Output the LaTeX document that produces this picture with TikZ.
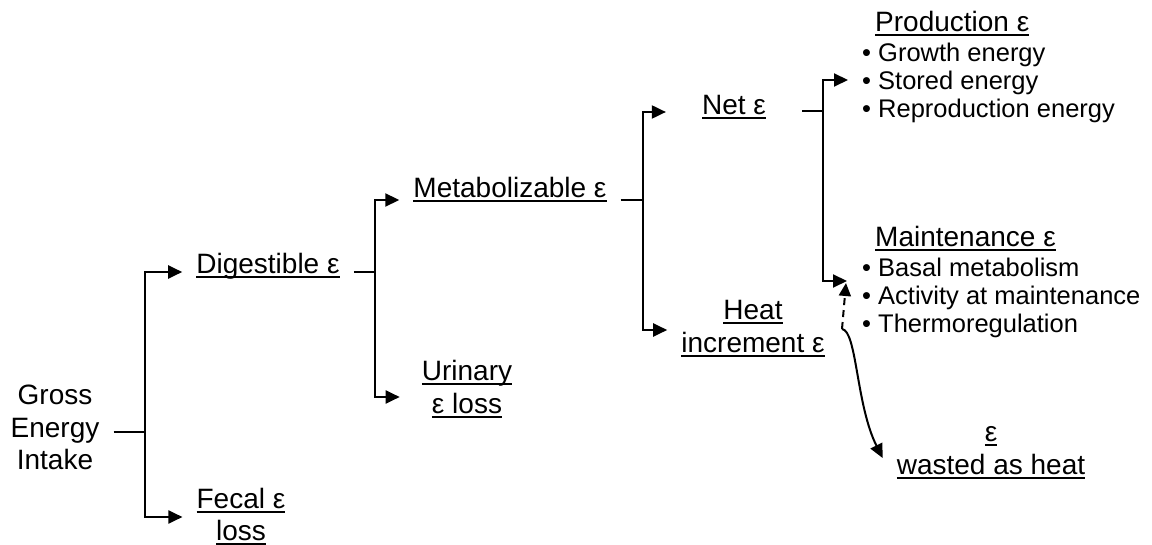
\documentclass[tikz,border=0pt]{standalone}
\usepackage{fontspec}
\setmainfont{Liberation Sans}
\usetikzlibrary{arrows.meta}
\newsavebox{\undlbox}
\newcommand{\undl}[1]{\sbox{\undlbox}{#1}\rlap{\rule[-4.5pt]{\wd\undlbox}{2pt}}\usebox{\undlbox}}
\newcommand{\mainsz}{\fontsize{28}{32.5}\selectfont}
\newcommand{\bulsz}{\fontsize{25.5}{27.7}\selectfont}
\newcommand{\ml}[1]{\begin{tabular}[t]{@{}c@{}}#1\end{tabular}}
\newcommand{\bl}[1]{\begin{tabular}[t]{@{}l@{}}#1\end{tabular}}
\begin{document}
\begin{tikzpicture}[x=1pt,y=-1pt,
  lbl/.style={font=\mainsz, inner xsep=14pt, inner ysep=0pt, anchor=base},
  hdr/.style={font=\mainsz, inner sep=0pt, anchor=base west},
  lst/.style={font=\bulsz, inner sep=0pt, anchor=base west},
  ln/.style={line width=2pt},
  arr/.style={line width=2pt, -{Triangle[length=14pt,width=13pt]}},
  darr/.style={line width=2pt, dash pattern=on 7pt off 5pt, -{Triangle[length=13pt,width=12pt]}}]
\useasboundingbox (0,0) rectangle (1152,545);

% nodes
\node[lbl] (gross) at (55,405) {\ml{Gross\\Energy\\Intake}};
\node[lbl] (digest) at (268,274) {\undl{Digestible ε}};
\node[lbl] (fecal) at (241,508) {\ml{\undl{Fecal ε}\\\undl{loss}}};
\node[lbl, inner xsep=22pt] (urin) at (467,381) {\ml{\undl{Urinary}\\\undl{ε loss}}};
\node[lbl] (metab) at (510,198) {\undl{Metabolizable ε}};
\node[lbl] (heat) at (753,320) {\ml{\undl{Heat}\\\undl{increment ε}}};
\node[lbl, inner xsep=36pt] (net) at (734,115) {\undl{Net ε}};
\node[lbl] (waste) at (991,442) {\ml{\undl{ε}\\\undl{wasted as heat}}};
\node[hdr] (prod) at (875,32) {\undl{Production ε}};
\node[lst] (prodlist) at (862,62) {\bl{• Growth energy\\• Stored energy\\• Reproduction energy}};
\node[hdr] (maint) at (875,247) {\undl{Maintenance ε}};
\node[lst] (maintlist) at (862,277) {\bl{• Basal metabolism\\• Activity at maintenance\\• Thermoregulation}};

% junctions
\coordinate (j1) at (145,432);
\coordinate (j2) at (375,272);
\coordinate (j3) at (643,200);
\coordinate (j4) at (823,111);
\coordinate (hs) at (842,329);
\coordinate (mtip) at (846,283);

% connectors
\draw[ln] (gross.east |- j1) -- (j1);
\draw[arr] (j1) |- (fecal.west |- 0,517);
\draw[arr] (j1) |- (digest.west |- j2);

\draw[ln] (digest.east |- j2) -- (j2);
\draw[arr] (j2) |- (metab.west |- j3);
\draw[arr] (j2) |- (urin.west |- 0,397);

\draw[ln] (metab.east |- j3) -- (j3);
\draw[arr] (j3) |- (net.west |- 0,112);
\draw[arr] (j3) |- (heat.west |- 0,330);

\draw[ln] (net.east |- j4) -- (j4);
\draw[arr] (j4) |- ([xshift=-14pt]prodlist.west |- 0,80);
\draw[arr] (j4) |- ([xshift=-15pt]maintlist.west |- 0,281);

\draw[darr] (hs) -- (mtip);
\draw[arr] (hs) .. controls (857,331) and (856,405) .. (waste.west |- 0,458);
\end{tikzpicture}
\end{document}
